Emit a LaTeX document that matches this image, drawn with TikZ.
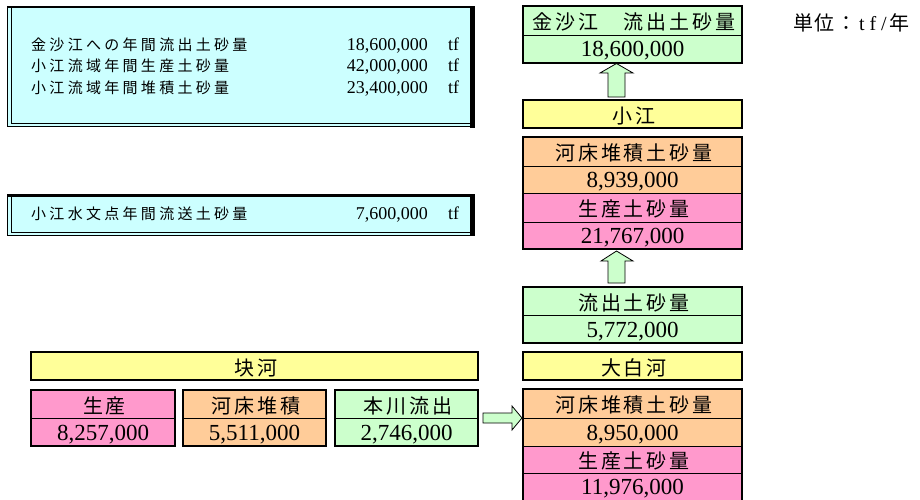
\documentclass[tikz,border=0pt]{standalone}
\usepackage{fontspec}
\setmainfont{Liberation Serif}
\newfontfamily\cjkS[LetterSpace=22]{Noto Sans CJK JP}
\newfontfamily\cjkL[LetterSpace=14.5]{Noto Sans CJK JP}
\newfontfamily\cjkU[LetterSpace=8]{Noto Sans CJK JP}
\newcommand\Jlab[1]{#1\kern-2.9pt}
\definecolor{ccyan}{HTML}{CCFFFF}
\definecolor{cgreen}{HTML}{CCFFCC}
\definecolor{corange}{HTML}{FFCC99}
\definecolor{cpink}{HTML}{FF99CC}
\definecolor{cyellow}{HTML}{FFFF99}
\begin{document}
\begin{tikzpicture}[x=1pt,y=-1pt,
  cell/.style={draw=black, line width=0.8pt, inner sep=0pt, outer sep=0pt, text depth=0pt, align=center},
  lab/.style={cell, text height=18.5pt, font=\fontsize{20pt}{20pt}\selectfont\cjkL},
  num/.style={cell, text height=16pt, font=\fontsize{23pt}{23pt}\selectfont},
  rcol/.style={minimum width=219pt},
  lcol/.style={minimum width=143pt},
  frame/.style={draw=black, line width=2pt},
  blockarrow/.style={draw=black, line width=0.8pt, fill=cgreen, line join=miter},
  smallj/.style={inner sep=0pt, anchor=base west, font=\fontsize{15pt}{15pt}\selectfont\cjkS},
  smalln/.style={inner sep=0pt, anchor=base east, font=\fontsize{18pt}{18pt}\selectfont},
  smallu/.style={inner sep=0pt, anchor=base west, font=\fontsize{18pt}{18pt}\selectfont},
  cyanbox/.style={fill=ccyan, inner sep=0pt, outer sep=0pt, anchor=north west},
]
\useasboundingbox (0,0) rectangle (920,500);

% ---------- cyan summary box 1 ----------
\node[cyanbox, minimum width=468pt, minimum height=121pt] (cb1) at (7,6) {};
\draw[line width=0.8pt] (7.5,6) -- (7.5,126.5) -- (470,126.5);
\draw[line width=0.8pt] (11,8) -- (11,123) -- (470,123);
\draw[line width=2.5pt] (7,7.25) -- (475,7.25);
\fill[black] (470,6) rectangle (475,128);
\node[smallj] (s1) at (31,50.5) {金沙江への年間流出土砂量};
\node[smalln] (n1) at (428,50.5) {18,600,000};
\node[smallu] (u1) at (448,50.5) {tf};
\node[smallj] (s2) at (31,72) {小江流域年間生産土砂量};
\node[smalln] (n2) at (428,72) {42,000,000};
\node[smallu] (u2) at (448,72) {tf};
\node[smallj] (s3) at (31,94) {小江流域年間堆積土砂量};
\node[smalln] (n3) at (428,94) {23,400,000};
\node[smallu] (u3) at (448,94) {tf};

% ---------- cyan summary box 2 ----------
\node[cyanbox, minimum width=468pt, minimum height=42pt] (cb2) at (7,194) {};
\draw[line width=0.8pt] (7.5,194) -- (7.5,235.5) -- (470,235.5);
\draw[line width=0.8pt] (11,196) -- (11,232) -- (470,232);
\draw[line width=2.5pt] (7,195.25) -- (475,195.25);
\fill[black] (470,194) rectangle (475,236);
\node[smallj] (s4) at (31,219.5) {小江水文点年間流送土砂量};
\node[smalln] (n4) at (428,219.5) {7,600,000};
\node[smallu] (u4) at (448,219.5) {tf};

% ---------- unit ----------
\node[inner sep=0pt, anchor=base west, font=\fontsize{20pt}{20pt}\selectfont] (unit) at (793,31)
  {{\cjkU 単位：}\makebox[11pt]{t}\makebox[11pt]{f}\makebox[11pt]{/}{\cjkU 年}};

% ---------- right column ----------
\node[lab, rcol, fill=cgreen, minimum height=29pt] (k1) at (632.5,20.5) {\Jlab{金沙江　流出土砂量}};
\node[num, rcol, fill=cgreen, minimum height=28pt] (k2) at (632.5,49) {18,600,000};
\draw[frame] (k1.north west) rectangle (k2.south east);

\draw[blockarrow] (608,97) -- (608,73) -- (600,73) -- (616.5,63.5) -- (633,73) -- (625,73) -- (625,97) -- cycle;

\node[lab, rcol, fill=cyellow, minimum height=28pt, line width=2pt] (xj) at (632.5,114) {\Jlab{小江}};

\node[lab, rcol, fill=corange, minimum height=29pt] (a1) at (632.5,151.5) {\Jlab{河床堆積土砂量}};
\node[num, rcol, fill=corange, minimum height=27pt] (a2) at (632.5,179.5) {8,939,000};
\node[lab, rcol, fill=cpink, minimum height=29pt] (a3) at (632.5,207.5) {\Jlab{生産土砂量}};
\node[num, rcol, fill=cpink, minimum height=27pt] (a4) at (632.5,235.5) {21,767,000};
\draw[frame] (a1.north west) rectangle (a4.south east);

\draw[blockarrow] (608,283) -- (608,261) -- (601,261) -- (616.5,251) -- (633,261) -- (625,261) -- (625,283) -- cycle;

\node[lab, rcol, fill=cgreen, minimum height=28pt] (b1) at (632.5,301) {\Jlab{流出土砂量}};
\node[num, rcol, fill=cgreen, minimum height=28pt] (b2) at (632.5,329) {5,772,000};
\draw[frame] (b1.north west) rectangle (b2.south east);

\node[lab, rcol, fill=cyellow, minimum height=28pt, line width=2pt] (dbh) at (632.5,366) {\Jlab{大白河}};

\node[lab, rcol, fill=corange, minimum height=29pt] (c1) at (632.5,403.5) {\Jlab{河床堆積土砂量}};
\node[num, rcol, fill=corange, minimum height=28pt] (c2) at (632.5,432) {8,950,000};
\node[lab, rcol, fill=cpink, minimum height=27pt] (c3) at (632.5,459.5) {\Jlab{生産土砂量}};
\node[num, rcol, fill=cpink, minimum height=27pt] (c4) at (632.5,486.5) {11,976,000};
\draw[frame] (c4.south west) -- (c1.north west) -- (c1.north east) -- (c4.south east);

% ---------- left bottom ----------
\node[lab, minimum width=447pt, fill=cyellow, minimum height=28pt, line width=2pt] (kh) at (254.5,366) {\Jlab{块河}};

\node[lab, minimum width=144pt, fill=cpink, minimum height=28pt] (p1) at (103,404) {\Jlab{生産}};
\node[num, minimum width=144pt, fill=cpink, minimum height=28pt] (p2) at (103,432) {8,257,000};
\draw[frame] (p1.north west) rectangle (p2.south east);

\node[lab, lcol, fill=corange, minimum height=28pt] (q1) at (254.5,404) {\Jlab{河床堆積}};
\node[num, lcol, fill=corange, minimum height=28pt] (q2) at (254.5,432) {5,511,000};
\draw[frame] (q1.north west) rectangle (q2.south east);

\node[lab, lcol, fill=cgreen, minimum height=28pt] (r1) at (406.5,404) {\Jlab{本川流出}};
\node[num, lcol, fill=cgreen, minimum height=28pt] (r2) at (406.5,432) {2,746,000};
\draw[frame] (r1.north west) rectangle (r2.south east);

\draw[blockarrow] (483,413) -- (512,413) -- (512,406) -- (522,418) -- (512,430) -- (512,423) -- (483,423) -- cycle;
\end{tikzpicture}
\end{document}
